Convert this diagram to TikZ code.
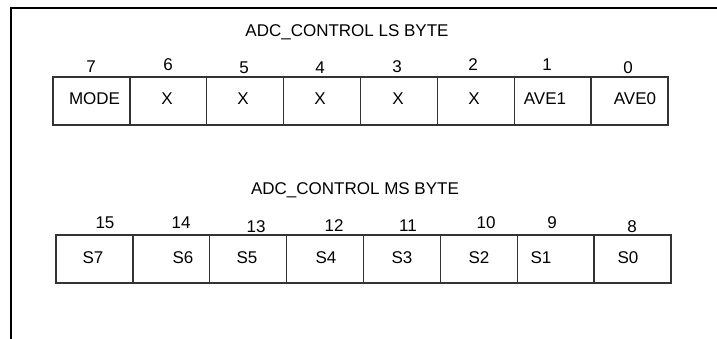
\documentclass[tikz,border=0pt]{standalone}
\usepackage{fontspec}
\setmainfont{Liberation Sans}
\usetikzlibrary{positioning}

\begin{document}
\begin{tikzpicture}[
  x=1pt, y=-1pt,
  font=\fontsize{17}{20}\selectfont,
  frame/.style={line width=2.4pt, draw=black},
  cell/.style={draw=black!80, line width=1.4pt, minimum width=76.9pt,
               minimum height=48pt, inner sep=0pt},
  txt/.style={anchor=base, inner sep=0pt},
  title/.style={anchor=base, inner sep=0pt},
]
\useasboundingbox (0,0) rectangle (717,339);

% outer frame, cut off at right and bottom
\coordinate (fl) at (11,339);
\coordinate (fc) at (11,8);
\coordinate (fr) at (717,8);
\draw[frame] (fl) -- (fc) -- (fr);

\node[title] (lstitle) at (347,37)  {ADC\_CONTROL LS BYTE};
\node[title] (mstitle) at (355,194) {ADC\_CONTROL MS BYTE};

% LS byte
\foreach \b/\cx/\nx/\ny/\tx/\t in {7/91.4/91/73/94.5/MODE, 6/168.3/168/71/167/X,
    5/245.2/244/74/243/X, 4/322.1/320/74/320/X, 3/398.9/397/73/398/X,
    2/475.8/473/71/474/X, 1/552.7/547/71/545/AVE1, 0/629.6/628/74/635/AVE0}{
  \node[cell] (ls\b) at (\cx,101) {};
  \node[txt] (lst\b) at (\tx,105) {\t};
  \node[txt] (lsn\b) at (\nx,\ny) {\b};
}

% MS byte
\foreach \b/\cx/\nx/\ny/\tx/\t in {15/94.4/105/229/93/S7, 14/171.3/181/229/183/S6,
    13/248.2/256/232/247/S5, 12/325.1/334/231/326/S4, 11/401.9/408/231/402/S3,
    10/478.8/486/229/479/S2, 9/555.7/552/229/541/S1, 8/632.6/632/232/628/S0}{
  \node[cell] (ms\b) at (\cx,259) {};
  \node[txt] (mst\b) at (\tx,263) {\t};
  \node[txt] (msn\b) at (\nx,\ny) {\b};
}
\end{tikzpicture}
\end{document}
